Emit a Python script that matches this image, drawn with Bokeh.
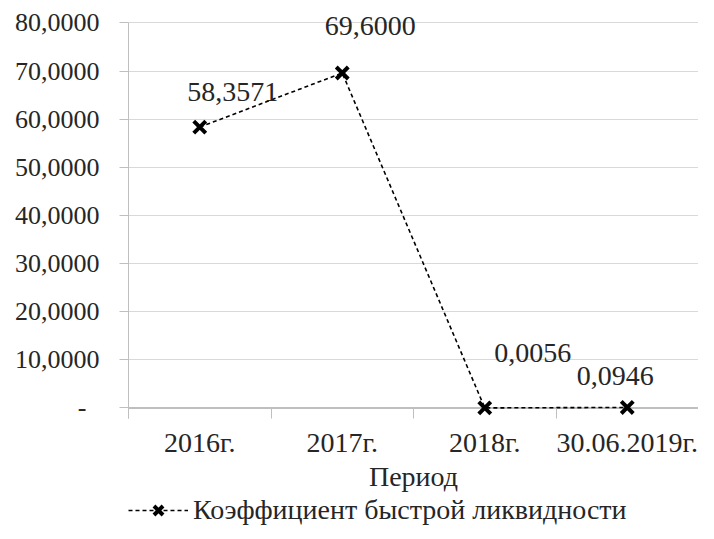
from bokeh.plotting import figure
from bokeh.layouts import column
from bokeh.models import FixedTicker, Range1d, Legend, LegendItem, ColumnDataSource, Span
from bokeh.core.properties import value
from bokeh.embed import file_html
from bokeh.resources import INLINE

# ---- data ----
categories = ["2016г.", "2017г.", "2018г.", "30.06.2019г."]
values = [58.3571, 69.6000, 0.0056, 0.0946]
y_ticks = [0, 10, 20, 30, 40, 50, 60, 70, 80]
y_tick_labels = ["-\u00a0\u00a0", "10,0000", "20,0000", "30,0000", "40,0000",
                 "50,0000", "60,0000", "70,0000", "80,0000"]
series_name = "Коэффициент быстрой ликвидности"
x_title = "Период"

# ---- label placement (pixels, style only) ----
label_dx = [33, 28, 48, -12]
label_dy = [-35, -47, -55, -31]

FONT = "Liberation Serif"
FS_Y = "26px"
FS = "28px"
TXT = "#262626"
AXC = "#bfbfbf"

centers = [i + 0.5 for i in range(len(categories))]
bounds = [i for i in range(len(categories) + 1)]
labels = [f"{v:.4f}".replace(".", ",") for v in values]

src = ColumnDataSource(dict(x=centers, y=values, lab=labels, dx=label_dx, dy=label_dy))

p = figure(frame_width=570, frame_height=410, x_range=Range1d(0, len(categories)),
           y_range=Range1d(-2.2, 83),
           output_backend="svg", toolbar_location=None,
           min_border_left=128, min_border_right=0, min_border_top=8, min_border_bottom=0)
p.outline_line_color = None
p.background_fill_color = "white"
p.border_fill_color = "white"

# x axis (line drawn as a span at zero; boundary ticks drawn from frame bottom up to zero)
xa = p.xaxis[0]
xa.ticker = FixedTicker(ticks=centers, minor_ticks=bounds)
xa.major_label_overrides = {c: lab for c, lab in zip(centers, categories)}
xa.major_tick_line_color = None
xa.major_tick_out = 0
xa.major_tick_in = 0
xa.minor_tick_line_color = AXC
xa.minor_tick_out = 0
xa.minor_tick_in = 10
xa.axis_line_color = None
xa.major_label_standoff = 8
xa.major_label_text_font = FONT
xa.major_label_text_font_size = FS
xa.major_label_text_color = TXT
xa.axis_label = x_title
xa.axis_label_text_font = FONT
xa.axis_label_text_font_size = FS
xa.axis_label_text_font_style = "normal"
xa.axis_label_text_color = TXT
xa.axis_label_standoff = 0

# y axis
ya = p.yaxis[0]
ya.ticker = FixedTicker(ticks=y_ticks, minor_ticks=[])
ya.major_label_overrides = {t: lab for t, lab in zip(y_ticks, y_tick_labels)}
ya.bounds = (-2.2, 80)
ya.major_tick_line_color = AXC
ya.major_tick_out = 9
ya.major_tick_in = 0
ya.minor_tick_line_color = None
ya.axis_line_color = AXC
ya.major_label_standoff = 20
ya.major_label_text_font = FONT
ya.major_label_text_font_size = FS_Y
ya.major_label_text_color = TXT

p.xgrid.visible = False
p.ygrid.ticker = FixedTicker(ticks=y_ticks)
p.ygrid.grid_line_color = "#d9d9d9"

p.add_layout(Span(location=0, dimension="width", line_color=AXC, line_width=2, level="underlay"))

p.line("x", "y", source=src, line_color="black", line_width=1.6, line_dash="4 3")
p.scatter("x", "y", source=src, marker="x", size=17, line_color="black", line_width=4)

p.text("x", "y", text="lab", source=src, x_offset="dx", y_offset="dy",
       text_font=value(FONT), text_font_size=FS, text_color=TXT,
       text_align="center", text_baseline="middle")

# ---- legend strip below the chart ----
q = figure(width=698, height=32, output_backend="svg", toolbar_location=None,
           x_axis_type=None, y_axis_type=None, min_border=0)
q.outline_line_color = None
q.xgrid.visible = False
q.ygrid.visible = False
lq = q.line("x", "y", source=src, line_color="black", line_width=1.6, line_dash="4 3", visible=False)
sq = q.scatter("x", "y", source=src, marker="x", size=17, line_color="black", line_width=4, visible=False)
legend = Legend(items=[LegendItem(label=series_name, renderers=[lq, sq])],
                location=(0, 0), orientation="horizontal",
                glyph_width=60, glyph_height=32, label_height=20, label_standoff=5,
                padding=0, margin=0, spacing=0,
                border_line_color=None, background_fill_alpha=0,
                label_text_font=FONT, label_text_font_size=FS, label_text_color=TXT)
q.add_layout(legend, "center")

open("out.html", "w").write(file_html(column(p, q, spacing=0), INLINE))
